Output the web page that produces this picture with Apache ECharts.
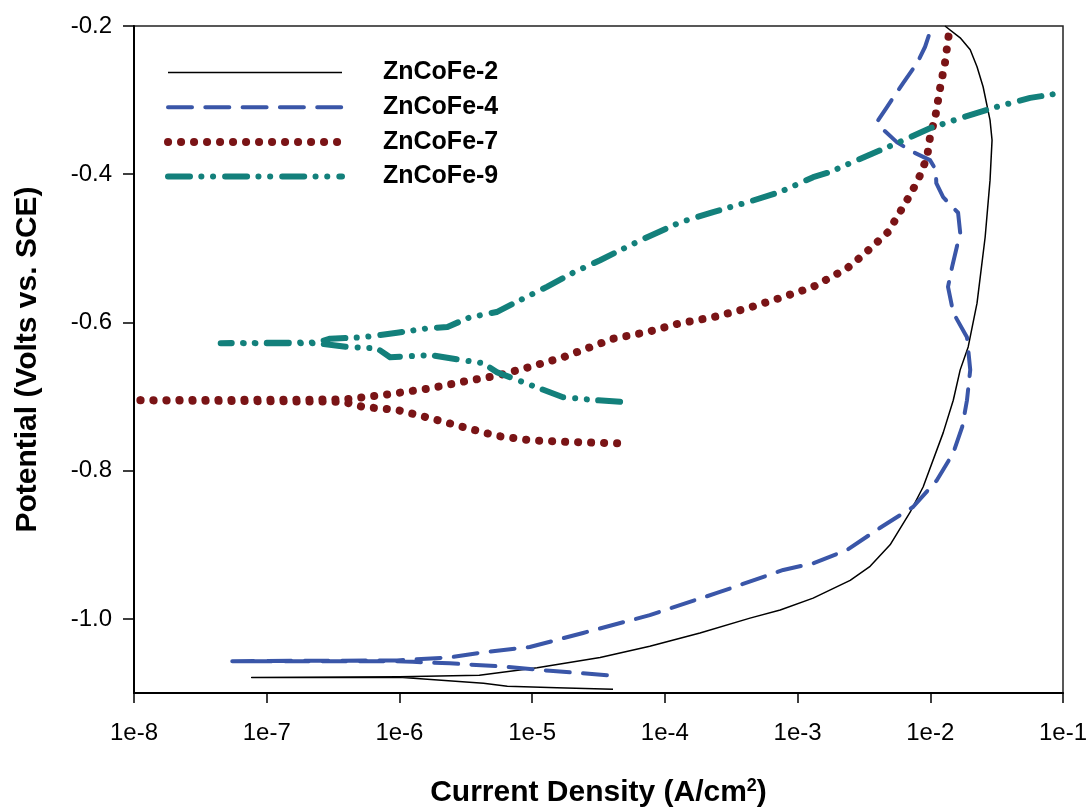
<!DOCTYPE html>
<html>
<head>
<meta charset="utf-8">
<script src="https://cdn.jsdelivr.net/npm/echarts@6/dist/echarts.min.js"></script>
<style>
html,body{margin:0;padding:0;background:#fff;}
#chart{width:1090px;height:807px;}
</style>
</head>
<body>
<div id="chart"></div>
<script>
// Series names
const seriesNames = ['ZnCoFe-2', 'ZnCoFe-4', 'ZnCoFe-7', 'ZnCoFe-9'];

// Tick values / labels
const xTickValues = [1e-8, 1e-7, 1e-6, 1e-5, 1e-4, 1e-3, 1e-2, 1e-1];
const xTickLabels = ['1e-8', '1e-7', '1e-6', '1e-5', '1e-4', '1e-3', '1e-2', '1e-1'];
const yTickValues = [-1.0, -0.8, -0.6, -0.4, -0.2];
const yTickLabels = ['-1.0', '-0.8', '-0.6', '-0.4', '-0.2'];

// [current density (A/cm2), potential (V vs SCE)]
const znCoFe2 = [
  [4.07e-5,-1.095],[1.54e-5,-1.093],[6.5e-6,-1.091],[4.3e-6,-1.087],[1.06e-6,-1.079],[7.7e-8,-1.079],
  [1.0e-6,-1.078],[4.0e-6,-1.076],[1.09e-5,-1.066],[3.25e-5,-1.052],[7.7e-5,-1.037],[1.84e-4,-1.019],
  [4.38e-4,-0.999],[7.4e-4,-0.988],[1.31e-3,-0.972],[2.49e-3,-0.948],[3.52e-3,-0.929],[4.98e-3,-0.900],
  [7.05e-3,-0.856],[8.83e-3,-0.822],[1.25e-2,-0.749],[1.49e-2,-0.705],[1.68e-2,-0.664],[1.93e-2,-0.633],
  [2.25e-2,-0.574],[2.59e-2,-0.485],[2.82e-2,-0.408],[2.92e-2,-0.354],[2.82e-2,-0.327],[2.5e-2,-0.282],
  [2.25e-2,-0.255],[2.0e-2,-0.232],[1.68e-2,-0.216],[1.29e-2,-0.200]
];
const znCoFe4 = [
  [3.66e-5,-1.076],[1.36e-5,-1.070],[5.7e-6,-1.064],[2.4e-6,-1.060],[1.26e-6,-1.058],[9.6e-7,-1.057],
  [5.5e-8,-1.057],[9.6e-7,-1.056],[2.4e-6,-1.052],[4.3e-6,-1.045],[9.6e-6,-1.038],[2.42e-5,-1.019],
  [7.7e-5,-0.995],[2.47e-4,-0.965],[7.8e-4,-0.934],[1.31e-3,-0.925],[2.36e-3,-0.907],[4.19e-3,-0.877],
  [7.41e-3,-0.849],[1.12e-2,-0.813],[1.49e-2,-0.776],[1.74e-2,-0.741],[1.89e-2,-0.705],[2.0e-2,-0.664],
  [1.89e-2,-0.620],[1.49e-2,-0.587],[1.36e-2,-0.552],[1.46e-2,-0.525],[1.68e-2,-0.479],[1.62e-2,-0.452],
  [1.25e-2,-0.431],[1.11e-2,-0.412],[1.10e-2,-0.394],[9.95e-3,-0.381],[7.41e-3,-0.370],[5.62e-3,-0.357],
  [4.19e-3,-0.336],[4.05e-3,-0.327],[4.73e-3,-0.309],[6.24e-3,-0.277],[7.96e-3,-0.250],[9.14e-3,-0.228],
  [1.03e-2,-0.200]
];
const znCoFe7 = [
  [4.37e-5,-0.763],[1.71e-5,-0.761],[9.6e-6,-0.759],[5.4e-6,-0.753],[3.0e-6,-0.741],[1.7e-6,-0.729],
  [9.6e-7,-0.718],[5.3e-7,-0.714],[3.8e-7,-0.707],[1.0e-8,-0.705],[3.8e-7,-0.704],[7.5e-7,-0.698],
  [1.7e-6,-0.689],[3.0e-6,-0.680],[5.4e-6,-0.672],[9.6e-6,-0.660],[1.71e-5,-0.647],[3.08e-5,-0.630],
  [4.07e-5,-0.622],[7.35e-5,-0.613],[1.30e-4,-0.601],[2.31e-4,-0.593],[4.16e-4,-0.581],[7.38e-4,-0.567],
  [1.31e-3,-0.552],[2.36e-3,-0.527],[3.12e-3,-0.509],[4.81e-3,-0.478],[6.68e-3,-0.435],[8.09e-3,-0.408],
  [9.46e-3,-0.377],[9.95e-3,-0.350],[1.09e-2,-0.323],[1.19e-2,-0.282],[1.29e-2,-0.250],[1.36e-2,-0.219],
  [1.41e-2,-0.200]
];
const znCoFe9 = [
  [4.6e-5,-0.707],[3.08e-5,-0.705],[1.71e-5,-0.701],[9.6e-6,-0.684],[5.4e-6,-0.667],[4.3e-6,-0.655],
  [3.0e-6,-0.651],[1.7e-6,-0.644],[8.5e-7,-0.647],[6.8e-7,-0.635],[4.0e-7,-0.633],[2.4e-7,-0.628],
  [4.5e-8,-0.628],[2.4e-7,-0.627],[3.0e-7,-0.622],[5.3e-7,-0.620],[9.6e-7,-0.614],[1.61e-6,-0.608],
  [2.3e-6,-0.606],[3.4e-6,-0.593],[5.4e-6,-0.586],[8.1e-6,-0.570],[1.29e-5,-0.552],[2.03e-5,-0.533],
  [3.25e-5,-0.516],[5.47e-5,-0.496],[7.35e-5,-0.485],[1.30e-4,-0.465],[2.31e-4,-0.451],[4.16e-4,-0.438],
  [7.38e-4,-0.424],[1.31e-3,-0.404],[1.76e-3,-0.397],[2.81e-3,-0.381],[5.62e-3,-0.358],[9.95e-3,-0.338],
  [1.77e-2,-0.323],[3.18e-2,-0.309],[5.65e-2,-0.297],[1.0e-1,-0.290]
];

const FONT = '"Liberation Sans", Arial, sans-serif';
const chart = echarts.init(document.getElementById('chart'), null, {renderer: 'canvas'});

function mkSeries(name, data, color, width, type, cap) {
  return {
    name: name, type: 'line', data: data, symbol: 'none', showSymbol: false,
    smooth: false, animation: false, clip: true,
    lineStyle: {color: color, width: width, type: type, cap: cap, join: 'round'},
    itemStyle: {color: color},
    emphasis: {disabled: true}
  };
}

chart.setOption({
  animation: false,
  backgroundColor: '#fff',
  grid: {
    left: 134, right: 27, top: 26, bottom: 114,
    containLabel: false, outerBoundsMode: 'none',
    show: true, borderColor: '#222', borderWidth: 1.5, backgroundColor: 'transparent'
  },
  legend: {
    orient: 'vertical', left: 164, top: 60, padding: 0,
    itemWidth: 174, itemHeight: 24, itemGap: 9.7,
    selectedMode: false,
    itemStyle: {opacity: 0, borderWidth: 0},
    lineStyle: {width: 'inherit', type: 'inherit', cap: 'inherit'},
    textStyle: {fontFamily: FONT, fontSize: 25, fontWeight: 'bold', color: '#000', lineHeight: 24, padding: [0, 0, 0, 36]},
    data: seriesNames
  },
  xAxis: {
    type: 'log', logBase: 10, min: 1e-8, max: 1e-1,
    name: '{a|Current Density (A/cm}{s|2}{a|)}',
    nameLocation: 'middle', nameGap: 84,
    nameTextStyle: {
      rich: {
        a: {fontFamily: FONT, fontSize: 30, fontWeight: 'bold', color: '#000', lineHeight: 32},
        s: {fontFamily: FONT, fontSize: 18, fontWeight: 'bold', color: '#000', verticalAlign: 'top', lineHeight: 32, padding: [0, 0, 12, 0]}
      }
    },
    axisLine: {show: true, onZero: false, lineStyle: {color: '#000', width: 2}},
    axisTick: {show: true, inside: false, length: 10, lineStyle: {color: '#000', width: 1.5}, customValues: xTickValues},
    minorTick: {show: false},
    splitLine: {show: false},
    axisLabel: {
      show: true, margin: 28, fontFamily: FONT, fontSize: 24, color: '#000',
      customValues: xTickValues,
      formatter: function (v) {
        const idx = xTickValues.findIndex(t => Math.abs(Math.log10(t) - Math.log10(v)) < 1e-6);
        return idx >= 0 ? xTickLabels[idx] : '';
      }
    }
  },
  yAxis: {
    type: 'value', min: -1.1, max: -0.2,
    name: 'Potential (Volts vs. SCE)',
    nameLocation: 'middle', nameGap: 91, nameRotate: 90,
    nameTextStyle: {fontFamily: FONT, fontSize: 30, fontWeight: 'bold', color: '#000'},
    axisLine: {show: true, onZero: false, lineStyle: {color: '#000', width: 2}},
    axisTick: {show: true, inside: false, length: 11, lineStyle: {color: '#000', width: 1.5}, customValues: yTickValues},
    splitLine: {show: false},
    axisLabel: {
      show: true, margin: 22, fontFamily: FONT, fontSize: 24, color: '#000',
      customValues: yTickValues,
      formatter: function (v) {
        const idx = yTickValues.findIndex(t => Math.abs(t - v) < 1e-6);
        return idx >= 0 ? yTickLabels[idx] : '';
      }
    }
  },
  series: [
    mkSeries(seriesNames[0], znCoFe2, '#000000', 1.5, 'solid', 'butt'),
    mkSeries(seriesNames[1], znCoFe4, '#3A56A8', 4, [24, 13.3], 'round'),
    mkSeries(seriesNames[2], znCoFe7, '#7A1416', 8, [0.1, 12.9], 'round'),
    mkSeries(seriesNames[3], znCoFe9, '#13807B', 6, [22, 11.3, 0.1, 11.6, 0.1, 12], 'round')
  ]
});
</script>
</body>
</html>
